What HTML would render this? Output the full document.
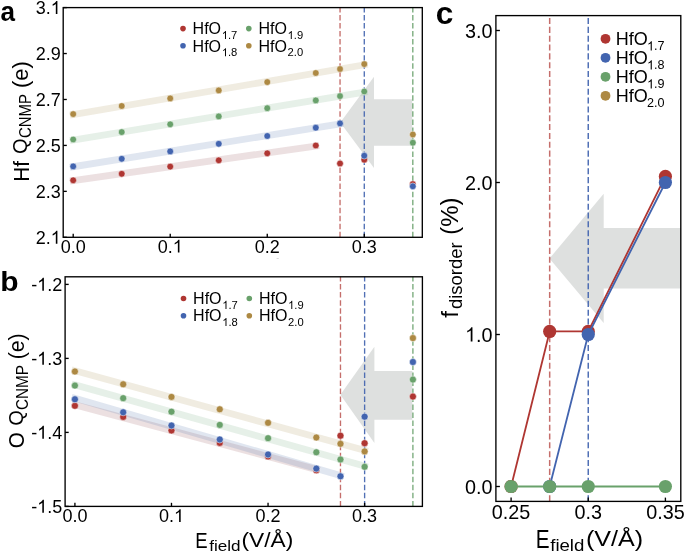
<!DOCTYPE html>
<html><head><meta charset="utf-8"><style>
html,body{margin:0;padding:0;background:#fff;}
svg{display:block;will-change:transform;}
text{font-family:"Liberation Sans", sans-serif;fill:#000;}
</style></head><body>
<svg width="685" height="553" viewBox="0 0 685 553">
<rect width="685" height="553" fill="#fff"/>
<polygon points="340.3,122.4 374.0,76.7 374.0,99.2 412.2,99.2 412.2,145.7 374.0,145.7 374.0,167.9" fill="#dee0df"/>
<line x1="73.20" y1="180.57" x2="315.78" y2="146.03" stroke="rgb(160,100,105)" stroke-opacity="0.2" stroke-width="6.8" stroke-linecap="square"/>
<line x1="73.20" y1="166.73" x2="340.04" y2="123.91" stroke="rgb(100,130,180)" stroke-opacity="0.2" stroke-width="6.8" stroke-linecap="square"/>
<line x1="73.20" y1="140.00" x2="364.29" y2="92.11" stroke="rgb(130,180,140)" stroke-opacity="0.2" stroke-width="6.8" stroke-linecap="square"/>
<line x1="73.20" y1="114.62" x2="364.29" y2="64.84" stroke="rgb(180,160,105)" stroke-opacity="0.2" stroke-width="6.8" stroke-linecap="square"/>
<line x1="340.04" y1="237.30" x2="340.04" y2="7.60" stroke="#af3632" stroke-opacity="0.72" stroke-width="1.35" stroke-dasharray="5.5 2.53" stroke-dashoffset="0"/>
<line x1="364.29" y1="237.30" x2="364.29" y2="7.60" stroke="#4264af" stroke-opacity="0.92" stroke-width="1.35" stroke-dasharray="5.5 2.53" stroke-dashoffset="0"/>
<line x1="412.81" y1="237.30" x2="412.81" y2="7.60" stroke="#69a16b" stroke-opacity="0.9" stroke-width="1.35" stroke-dasharray="5.5 2.53" stroke-dashoffset="0"/>
<circle cx="73.20" cy="180.30" r="3.35" fill="#af3632" stroke="#fff" stroke-width="0.5"/>
<circle cx="121.72" cy="173.80" r="3.35" fill="#af3632" stroke="#fff" stroke-width="0.5"/>
<circle cx="170.23" cy="166.60" r="3.35" fill="#af3632" stroke="#fff" stroke-width="0.5"/>
<circle cx="218.75" cy="160.30" r="3.35" fill="#af3632" stroke="#fff" stroke-width="0.5"/>
<circle cx="267.26" cy="153.30" r="3.35" fill="#af3632" stroke="#fff" stroke-width="0.5"/>
<circle cx="315.78" cy="145.50" r="3.35" fill="#af3632" stroke="#fff" stroke-width="0.5"/>
<circle cx="340.04" cy="163.50" r="3.35" fill="#af3632" stroke="#fff" stroke-width="0.5"/>
<circle cx="364.29" cy="159.70" r="3.35" fill="#af3632" stroke="#fff" stroke-width="0.5"/>
<circle cx="412.81" cy="184.10" r="3.35" fill="#af3632" stroke="#fff" stroke-width="0.5"/>
<circle cx="73.20" cy="166.40" r="3.35" fill="#4264af" stroke="#fff" stroke-width="0.5"/>
<circle cx="121.72" cy="158.80" r="3.35" fill="#4264af" stroke="#fff" stroke-width="0.5"/>
<circle cx="170.23" cy="151.40" r="3.35" fill="#4264af" stroke="#fff" stroke-width="0.5"/>
<circle cx="218.75" cy="143.80" r="3.35" fill="#4264af" stroke="#fff" stroke-width="0.5"/>
<circle cx="267.26" cy="136.00" r="3.35" fill="#4264af" stroke="#fff" stroke-width="0.5"/>
<circle cx="315.78" cy="127.70" r="3.35" fill="#4264af" stroke="#fff" stroke-width="0.5"/>
<circle cx="340.04" cy="123.40" r="3.35" fill="#4264af" stroke="#fff" stroke-width="0.5"/>
<circle cx="364.29" cy="155.70" r="3.35" fill="#4264af" stroke="#fff" stroke-width="0.5"/>
<circle cx="412.81" cy="186.30" r="3.35" fill="#4264af" stroke="#fff" stroke-width="0.5"/>
<circle cx="73.20" cy="139.50" r="3.35" fill="#69a16b" stroke="#fff" stroke-width="0.5"/>
<circle cx="121.72" cy="132.10" r="3.35" fill="#69a16b" stroke="#fff" stroke-width="0.5"/>
<circle cx="170.23" cy="124.30" r="3.35" fill="#69a16b" stroke="#fff" stroke-width="0.5"/>
<circle cx="218.75" cy="116.40" r="3.35" fill="#69a16b" stroke="#fff" stroke-width="0.5"/>
<circle cx="267.26" cy="108.20" r="3.35" fill="#69a16b" stroke="#fff" stroke-width="0.5"/>
<circle cx="315.78" cy="100.40" r="3.35" fill="#69a16b" stroke="#fff" stroke-width="0.5"/>
<circle cx="340.04" cy="96.10" r="3.35" fill="#69a16b" stroke="#fff" stroke-width="0.5"/>
<circle cx="364.29" cy="91.50" r="3.35" fill="#69a16b" stroke="#fff" stroke-width="0.5"/>
<circle cx="412.81" cy="142.70" r="3.35" fill="#69a16b" stroke="#fff" stroke-width="0.5"/>
<circle cx="73.20" cy="114.10" r="3.35" fill="#ad8943" stroke="#fff" stroke-width="0.5"/>
<circle cx="121.72" cy="106.00" r="3.35" fill="#ad8943" stroke="#fff" stroke-width="0.5"/>
<circle cx="170.23" cy="98.40" r="3.35" fill="#ad8943" stroke="#fff" stroke-width="0.5"/>
<circle cx="218.75" cy="90.40" r="3.35" fill="#ad8943" stroke="#fff" stroke-width="0.5"/>
<circle cx="267.26" cy="82.10" r="3.35" fill="#ad8943" stroke="#fff" stroke-width="0.5"/>
<circle cx="315.78" cy="73.00" r="3.35" fill="#ad8943" stroke="#fff" stroke-width="0.5"/>
<circle cx="340.04" cy="69.00" r="3.35" fill="#ad8943" stroke="#fff" stroke-width="0.5"/>
<circle cx="364.29" cy="64.10" r="3.35" fill="#ad8943" stroke="#fff" stroke-width="0.5"/>
<circle cx="412.81" cy="134.50" r="3.35" fill="#ad8943" stroke="#fff" stroke-width="0.5"/>
<rect x="63.20" y="7.60" width="359.10" height="229.70" fill="none" stroke="#000" stroke-width="1.35"/>
<line x1="63.20" y1="237.30" x2="66.80" y2="237.30" stroke="#000" stroke-width="1.35"/>
<line x1="63.20" y1="191.36" x2="66.80" y2="191.36" stroke="#000" stroke-width="1.35"/>
<line x1="63.20" y1="145.42" x2="66.80" y2="145.42" stroke="#000" stroke-width="1.35"/>
<line x1="63.20" y1="99.48" x2="66.80" y2="99.48" stroke="#000" stroke-width="1.35"/>
<line x1="63.20" y1="53.54" x2="66.80" y2="53.54" stroke="#000" stroke-width="1.35"/>
<line x1="63.20" y1="7.60" x2="66.80" y2="7.60" stroke="#000" stroke-width="1.35"/>
<line x1="73.20" y1="237.30" x2="73.20" y2="233.70" stroke="#000" stroke-width="1.35"/>
<line x1="170.23" y1="237.30" x2="170.23" y2="233.70" stroke="#000" stroke-width="1.35"/>
<line x1="267.26" y1="237.30" x2="267.26" y2="233.70" stroke="#000" stroke-width="1.35"/>
<line x1="364.29" y1="237.30" x2="364.29" y2="233.70" stroke="#000" stroke-width="1.35"/>
<text x="35.68" y="243.70" font-size="18">2.</text>
<path transform="translate(50.69,243.70) scale(0.008789,-0.008789)" d="M763 0L583 0L583 1147Q518 1085 412 1023Q306 961 222 930L222 1104Q373 1175 486 1276Q599 1377 646 1472L763 1472Z"/>
<text x="60.70" y="197.76" font-size="18" text-anchor="end" font-weight="normal">2.3</text>
<text x="60.70" y="151.82" font-size="18" text-anchor="end" font-weight="normal">2.5</text>
<text x="60.70" y="105.88" font-size="18" text-anchor="end" font-weight="normal">2.7</text>
<text x="60.70" y="59.94" font-size="18" text-anchor="end" font-weight="normal">2.9</text>
<text x="35.68" y="14.00" font-size="18">3.</text>
<path transform="translate(50.69,14.00) scale(0.008789,-0.008789)" d="M763 0L583 0L583 1147Q518 1085 412 1023Q306 961 222 930L222 1104Q373 1175 486 1276Q599 1377 646 1472L763 1472Z"/>
<text x="73.20" y="252.60" font-size="18" text-anchor="middle" font-weight="normal">0.0</text>
<text x="157.72" y="252.60" font-size="18">0.</text>
<path transform="translate(172.74,252.60) scale(0.008789,-0.008789)" d="M763 0L583 0L583 1147Q518 1085 412 1023Q306 961 222 930L222 1104Q373 1175 486 1276Q599 1377 646 1472L763 1472Z"/>
<text x="267.26" y="252.60" font-size="18" text-anchor="middle" font-weight="normal">0.2</text>
<text x="364.29" y="252.60" font-size="18" text-anchor="middle" font-weight="normal">0.3</text>
<circle cx="183.00" cy="28.60" r="2.8" fill="#af3632"/>
<text x="192.60" y="34.30" font-size="16">HfO</text>
<path transform="translate(221.80,39.00) scale(0.005469,-0.005469)" d="M763 0L583 0L583 1147Q518 1085 412 1023Q306 961 222 930L222 1104Q373 1175 486 1276Q599 1377 646 1472L763 1472Z"/>
<text x="228.03" y="39.00" font-size="11.2">.7</text>
<circle cx="183.00" cy="45.80" r="2.8" fill="#4264af"/>
<text x="192.60" y="51.50" font-size="16">HfO</text>
<path transform="translate(221.80,56.20) scale(0.005469,-0.005469)" d="M763 0L583 0L583 1147Q518 1085 412 1023Q306 961 222 930L222 1104Q373 1175 486 1276Q599 1377 646 1472L763 1472Z"/>
<text x="228.03" y="56.20" font-size="11.2">.8</text>
<circle cx="248.80" cy="28.60" r="2.8" fill="#69a16b"/>
<text x="258.40" y="34.30" font-size="16">HfO</text>
<path transform="translate(287.60,39.00) scale(0.005469,-0.005469)" d="M763 0L583 0L583 1147Q518 1085 412 1023Q306 961 222 930L222 1104Q373 1175 486 1276Q599 1377 646 1472L763 1472Z"/>
<text x="293.83" y="39.00" font-size="11.2">.9</text>
<circle cx="248.80" cy="45.80" r="2.8" fill="#ad8943"/>
<text x="258.40" y="51.50" font-size="16">HfO</text>
<text x="287.60" y="56.20" font-size="11.2" text-anchor="start" font-weight="normal">2.0</text>
<polygon points="340.4,394.8 374.4,346.7 374.4,370.9 412.3,370.9 412.3,419.8 374.4,419.8 374.4,442.9" fill="#dee0df"/>
<line x1="74.91" y1="404.75" x2="316.33" y2="469.52" stroke="rgb(160,100,105)" stroke-opacity="0.2" stroke-width="6.8" stroke-linecap="square"/>
<line x1="74.91" y1="398.29" x2="340.47" y2="475.55" stroke="rgb(100,130,180)" stroke-opacity="0.2" stroke-width="6.8" stroke-linecap="square"/>
<line x1="74.91" y1="384.82" x2="364.62" y2="466.02" stroke="rgb(130,180,140)" stroke-opacity="0.2" stroke-width="6.8" stroke-linecap="square"/>
<line x1="74.91" y1="370.67" x2="364.62" y2="450.40" stroke="rgb(180,160,105)" stroke-opacity="0.2" stroke-width="6.8" stroke-linecap="square"/>
<line x1="340.47" y1="506.40" x2="340.47" y2="276.80" stroke="#af3632" stroke-opacity="0.72" stroke-width="1.35" stroke-dasharray="5.5 2.53" stroke-dashoffset="0"/>
<line x1="364.62" y1="506.40" x2="364.62" y2="276.80" stroke="#4264af" stroke-opacity="0.92" stroke-width="1.35" stroke-dasharray="5.5 2.53" stroke-dashoffset="0"/>
<line x1="412.90" y1="506.40" x2="412.90" y2="276.80" stroke="#69a16b" stroke-opacity="0.9" stroke-width="1.35" stroke-dasharray="5.5 2.53" stroke-dashoffset="0"/>
<circle cx="74.91" cy="405.80" r="3.5" fill="#af3632" stroke="#fff" stroke-width="0.5"/>
<circle cx="123.19" cy="416.90" r="3.5" fill="#af3632" stroke="#fff" stroke-width="0.5"/>
<circle cx="171.48" cy="430.50" r="3.5" fill="#af3632" stroke="#fff" stroke-width="0.5"/>
<circle cx="219.76" cy="442.90" r="3.5" fill="#af3632" stroke="#fff" stroke-width="0.5"/>
<circle cx="268.05" cy="456.40" r="3.5" fill="#af3632" stroke="#fff" stroke-width="0.5"/>
<circle cx="316.33" cy="470.30" r="3.5" fill="#af3632" stroke="#fff" stroke-width="0.5"/>
<circle cx="340.47" cy="435.70" r="3.5" fill="#af3632" stroke="#fff" stroke-width="0.5"/>
<circle cx="364.62" cy="443.20" r="3.5" fill="#af3632" stroke="#fff" stroke-width="0.5"/>
<circle cx="412.90" cy="396.60" r="3.5" fill="#af3632" stroke="#fff" stroke-width="0.5"/>
<circle cx="74.91" cy="399.30" r="3.5" fill="#4264af" stroke="#fff" stroke-width="0.5"/>
<circle cx="123.19" cy="412.30" r="3.5" fill="#4264af" stroke="#fff" stroke-width="0.5"/>
<circle cx="171.48" cy="425.50" r="3.5" fill="#4264af" stroke="#fff" stroke-width="0.5"/>
<circle cx="219.76" cy="439.50" r="3.5" fill="#4264af" stroke="#fff" stroke-width="0.5"/>
<circle cx="268.05" cy="454.50" r="3.5" fill="#4264af" stroke="#fff" stroke-width="0.5"/>
<circle cx="316.33" cy="468.60" r="3.5" fill="#4264af" stroke="#fff" stroke-width="0.5"/>
<circle cx="340.47" cy="476.30" r="3.5" fill="#4264af" stroke="#fff" stroke-width="0.5"/>
<circle cx="364.62" cy="416.70" r="3.5" fill="#4264af" stroke="#fff" stroke-width="0.5"/>
<circle cx="412.90" cy="362.00" r="3.5" fill="#4264af" stroke="#fff" stroke-width="0.5"/>
<circle cx="74.91" cy="385.60" r="3.5" fill="#69a16b" stroke="#fff" stroke-width="0.5"/>
<circle cx="123.19" cy="398.20" r="3.5" fill="#69a16b" stroke="#fff" stroke-width="0.5"/>
<circle cx="171.48" cy="411.70" r="3.5" fill="#69a16b" stroke="#fff" stroke-width="0.5"/>
<circle cx="219.76" cy="424.90" r="3.5" fill="#69a16b" stroke="#fff" stroke-width="0.5"/>
<circle cx="268.05" cy="438.20" r="3.5" fill="#69a16b" stroke="#fff" stroke-width="0.5"/>
<circle cx="316.33" cy="452.30" r="3.5" fill="#69a16b" stroke="#fff" stroke-width="0.5"/>
<circle cx="340.47" cy="459.50" r="3.5" fill="#69a16b" stroke="#fff" stroke-width="0.5"/>
<circle cx="364.62" cy="466.80" r="3.5" fill="#69a16b" stroke="#fff" stroke-width="0.5"/>
<circle cx="412.90" cy="379.60" r="3.5" fill="#69a16b" stroke="#fff" stroke-width="0.5"/>
<circle cx="74.91" cy="371.50" r="3.5" fill="#ad8943" stroke="#fff" stroke-width="0.5"/>
<circle cx="123.19" cy="384.30" r="3.5" fill="#ad8943" stroke="#fff" stroke-width="0.5"/>
<circle cx="171.48" cy="396.90" r="3.5" fill="#ad8943" stroke="#fff" stroke-width="0.5"/>
<circle cx="219.76" cy="409.30" r="3.5" fill="#ad8943" stroke="#fff" stroke-width="0.5"/>
<circle cx="268.05" cy="422.80" r="3.5" fill="#ad8943" stroke="#fff" stroke-width="0.5"/>
<circle cx="316.33" cy="437.50" r="3.5" fill="#ad8943" stroke="#fff" stroke-width="0.5"/>
<circle cx="340.47" cy="443.80" r="3.5" fill="#ad8943" stroke="#fff" stroke-width="0.5"/>
<circle cx="364.62" cy="451.40" r="3.5" fill="#ad8943" stroke="#fff" stroke-width="0.5"/>
<circle cx="412.90" cy="338.10" r="3.5" fill="#ad8943" stroke="#fff" stroke-width="0.5"/>
<rect x="65.10" y="276.80" width="357.30" height="229.60" fill="none" stroke="#000" stroke-width="1.35"/>
<line x1="65.10" y1="506.40" x2="68.70" y2="506.40" stroke="#000" stroke-width="1.35"/>
<line x1="65.10" y1="432.40" x2="68.70" y2="432.40" stroke="#000" stroke-width="1.35"/>
<line x1="65.10" y1="358.40" x2="68.70" y2="358.40" stroke="#000" stroke-width="1.35"/>
<line x1="65.10" y1="284.40" x2="68.70" y2="284.40" stroke="#000" stroke-width="1.35"/>
<line x1="74.91" y1="506.40" x2="74.91" y2="502.80" stroke="#000" stroke-width="1.35"/>
<line x1="171.48" y1="506.40" x2="171.48" y2="502.80" stroke="#000" stroke-width="1.35"/>
<line x1="268.05" y1="506.40" x2="268.05" y2="502.80" stroke="#000" stroke-width="1.35"/>
<line x1="364.62" y1="506.40" x2="364.62" y2="502.80" stroke="#000" stroke-width="1.35"/>
<text x="31.19" y="512.80" font-size="18">-</text>
<path transform="translate(37.18,512.80) scale(0.008789,-0.008789)" d="M763 0L583 0L583 1147Q518 1085 412 1023Q306 961 222 930L222 1104Q373 1175 486 1276Q599 1377 646 1472L763 1472Z"/>
<text x="47.19" y="512.80" font-size="18">.5</text>
<text x="31.19" y="438.80" font-size="18">-</text>
<path transform="translate(37.18,438.80) scale(0.008789,-0.008789)" d="M763 0L583 0L583 1147Q518 1085 412 1023Q306 961 222 930L222 1104Q373 1175 486 1276Q599 1377 646 1472L763 1472Z"/>
<text x="47.19" y="438.80" font-size="18">.4</text>
<text x="31.19" y="364.80" font-size="18">-</text>
<path transform="translate(37.18,364.80) scale(0.008789,-0.008789)" d="M763 0L583 0L583 1147Q518 1085 412 1023Q306 961 222 930L222 1104Q373 1175 486 1276Q599 1377 646 1472L763 1472Z"/>
<text x="47.19" y="364.80" font-size="18">.3</text>
<text x="31.19" y="290.80" font-size="18">-</text>
<path transform="translate(37.18,290.80) scale(0.008789,-0.008789)" d="M763 0L583 0L583 1147Q518 1085 412 1023Q306 961 222 930L222 1104Q373 1175 486 1276Q599 1377 646 1472L763 1472Z"/>
<text x="47.19" y="290.80" font-size="18">.2</text>
<text x="74.91" y="522.10" font-size="18" text-anchor="middle" font-weight="normal">0.0</text>
<text x="158.97" y="522.10" font-size="18">0.</text>
<path transform="translate(173.98,522.10) scale(0.008789,-0.008789)" d="M763 0L583 0L583 1147Q518 1085 412 1023Q306 961 222 930L222 1104Q373 1175 486 1276Q599 1377 646 1472L763 1472Z"/>
<text x="268.05" y="522.10" font-size="18" text-anchor="middle" font-weight="normal">0.2</text>
<text x="364.62" y="522.10" font-size="18" text-anchor="middle" font-weight="normal">0.3</text>
<circle cx="183.50" cy="298.50" r="2.8" fill="#af3632"/>
<text x="193.10" y="304.20" font-size="16">HfO</text>
<path transform="translate(222.30,308.90) scale(0.005469,-0.005469)" d="M763 0L583 0L583 1147Q518 1085 412 1023Q306 961 222 930L222 1104Q373 1175 486 1276Q599 1377 646 1472L763 1472Z"/>
<text x="228.53" y="308.90" font-size="11.2">.7</text>
<circle cx="183.50" cy="315.70" r="2.8" fill="#4264af"/>
<text x="193.10" y="321.40" font-size="16">HfO</text>
<path transform="translate(222.30,326.10) scale(0.005469,-0.005469)" d="M763 0L583 0L583 1147Q518 1085 412 1023Q306 961 222 930L222 1104Q373 1175 486 1276Q599 1377 646 1472L763 1472Z"/>
<text x="228.53" y="326.10" font-size="11.2">.8</text>
<circle cx="249.30" cy="298.50" r="2.8" fill="#69a16b"/>
<text x="258.90" y="304.20" font-size="16">HfO</text>
<path transform="translate(288.10,308.90) scale(0.005469,-0.005469)" d="M763 0L583 0L583 1147Q518 1085 412 1023Q306 961 222 930L222 1104Q373 1175 486 1276Q599 1377 646 1472L763 1472Z"/>
<text x="294.33" y="308.90" font-size="11.2">.9</text>
<circle cx="249.30" cy="315.70" r="2.8" fill="#ad8943"/>
<text x="258.90" y="321.40" font-size="16">HfO</text>
<text x="288.10" y="326.10" font-size="11.2" text-anchor="start" font-weight="normal">2.0</text>
<text transform="translate(0.58,21.02) scale(0.9207,1)" font-size="28.36" font-weight="bold">a</text>
<text transform="translate(0.20,290.50) scale(1.0683,1)" font-size="28.08" font-weight="bold">b</text>
<text transform="translate(435.73,23.79) scale(1.0115,1)" font-size="31.27" font-weight="bold">c</text>
<text transform="translate(28.68,181.76) rotate(-90) scale(0.9793,1)" font-size="21.20" font-weight="normal">Hf</text>
<text transform="translate(26.85,153.90) rotate(-90) scale(0.9622,1)" font-size="20.79" font-weight="normal">Q</text>
<text transform="translate(31.34,138.05) rotate(-90) scale(0.9425,1)" font-size="15.92" font-weight="normal">CNMP</text>
<text transform="translate(28.45,88.01) rotate(-90) scale(0.9860,1)" font-size="22.13" font-weight="normal">(e)</text>
<text transform="translate(24.17,448.23) rotate(-90) scale(0.9136,1)" font-size="22.54" font-weight="normal">O</text>
<text transform="translate(22.57,425.80) rotate(-90) scale(0.9674,1)" font-size="20.67" font-weight="normal">Q</text>
<text transform="translate(28.03,409.96) rotate(-90) scale(0.9118,1)" font-size="16.76" font-weight="normal">CNMP</text>
<text transform="translate(23.85,359.28) rotate(-90) scale(0.9614,1)" font-size="22.13" font-weight="normal">(e)</text>
<text transform="translate(195.32,548.20) scale(0.8087,1)" font-size="22.90" font-weight="normal">E</text>
<text transform="translate(209.23,551.15) scale(1.1300,1)" font-size="15.14" font-weight="normal">field</text>
<text transform="translate(241.44,546.51) scale(1.0863,1)" font-size="20.93" font-weight="normal">(V/Å)</text>
<polygon points="549.5,258.5 603.7,193.7 603.7,227.9 680.8,227.9 680.8,288.6 603.7,288.6 603.7,323.0" fill="#dee0df"/>
<line x1="549.68" y1="501.40" x2="549.68" y2="15.60" stroke="#af3632" stroke-opacity="0.72" stroke-width="1.5" stroke-dasharray="6.05 2.79" stroke-dashoffset="0"/>
<line x1="588.25" y1="501.40" x2="588.25" y2="15.60" stroke="#4264af" stroke-opacity="0.92" stroke-width="1.5" stroke-dasharray="6.05 2.79" stroke-dashoffset="0"/>
<polyline points="511.10,486.50 549.68,331.46 588.25,331.46 665.40,176.42" fill="none" stroke="#af3632" stroke-width="1.8" stroke-linejoin="round"/>
<circle cx="511.10" cy="486.50" r="6.6" fill="#af3632"/>
<circle cx="549.68" cy="331.46" r="6.6" fill="#af3632"/>
<circle cx="588.25" cy="331.46" r="6.6" fill="#af3632"/>
<circle cx="665.40" cy="176.42" r="6.6" fill="#af3632"/>
<polyline points="549.68,486.50 588.25,334.50 665.40,182.50" fill="none" stroke="#4264af" stroke-width="1.8" stroke-linejoin="round"/>
<circle cx="549.68" cy="486.50" r="6.6" fill="#4264af"/>
<circle cx="588.25" cy="334.50" r="6.6" fill="#4264af"/>
<circle cx="665.40" cy="182.50" r="6.6" fill="#4264af"/>
<polyline points="511.10,486.50 549.68,486.50 588.25,486.50 665.40,486.50" fill="none" stroke="#69a16b" stroke-width="1.8" stroke-linejoin="round"/>
<circle cx="511.10" cy="486.50" r="6.6" fill="#69a16b"/>
<circle cx="549.68" cy="486.50" r="6.6" fill="#69a16b"/>
<circle cx="588.25" cy="486.50" r="6.6" fill="#69a16b"/>
<circle cx="665.40" cy="486.50" r="6.6" fill="#69a16b"/>
<rect x="495.90" y="15.60" width="184.90" height="485.80" fill="none" stroke="#000" stroke-width="1.35"/>
<line x1="495.90" y1="486.50" x2="499.90" y2="486.50" stroke="#000" stroke-width="1.35"/>
<text x="492.60" y="493.50" font-size="19.8" text-anchor="end" font-weight="normal">0.0</text>
<line x1="495.90" y1="334.50" x2="499.90" y2="334.50" stroke="#000" stroke-width="1.35"/>
<path transform="translate(465.08,341.50) scale(0.009668,-0.009668)" d="M763 0L583 0L583 1147Q518 1085 412 1023Q306 961 222 930L222 1104Q373 1175 486 1276Q599 1377 646 1472L763 1472Z"/>
<text x="476.09" y="341.50" font-size="19.8">.0</text>
<line x1="495.90" y1="182.50" x2="499.90" y2="182.50" stroke="#000" stroke-width="1.35"/>
<text x="492.60" y="189.50" font-size="19.8" text-anchor="end" font-weight="normal">2.0</text>
<line x1="495.90" y1="30.50" x2="499.90" y2="30.50" stroke="#000" stroke-width="1.35"/>
<text x="492.60" y="37.50" font-size="19.8" text-anchor="end" font-weight="normal">3.0</text>
<line x1="511.10" y1="501.40" x2="511.10" y2="497.60" stroke="#000" stroke-width="1.35"/>
<text x="511.10" y="518.70" font-size="19.8" text-anchor="middle" font-weight="normal">0.25</text>
<line x1="588.25" y1="501.40" x2="588.25" y2="497.60" stroke="#000" stroke-width="1.35"/>
<text x="588.25" y="518.70" font-size="19.8" text-anchor="middle" font-weight="normal">0.3</text>
<line x1="665.40" y1="501.40" x2="665.40" y2="497.60" stroke="#000" stroke-width="1.35"/>
<text x="665.40" y="518.70" font-size="19.8" text-anchor="middle" font-weight="normal">0.35</text>
<circle cx="605.5" cy="38.80" r="4.9" fill="#af3632"/>
<text x="615.80" y="45.20" font-size="18">HfO</text>
<path transform="translate(647.10,50.40) scale(0.006152,-0.006152)" d="M763 0L583 0L583 1147Q518 1085 412 1023Q306 961 222 930L222 1104Q373 1175 486 1276Q599 1377 646 1472L763 1472Z"/>
<text x="654.11" y="50.40" font-size="12.6">.7</text>
<circle cx="605.5" cy="57.80" r="4.9" fill="#4264af"/>
<text x="615.80" y="64.20" font-size="18">HfO</text>
<path transform="translate(647.10,69.40) scale(0.006152,-0.006152)" d="M763 0L583 0L583 1147Q518 1085 412 1023Q306 961 222 930L222 1104Q373 1175 486 1276Q599 1377 646 1472L763 1472Z"/>
<text x="654.11" y="69.40" font-size="12.6">.8</text>
<circle cx="605.5" cy="76.80" r="4.9" fill="#69a16b"/>
<text x="615.80" y="83.20" font-size="18">HfO</text>
<path transform="translate(647.10,88.40) scale(0.006152,-0.006152)" d="M763 0L583 0L583 1147Q518 1085 412 1023Q306 961 222 930L222 1104Q373 1175 486 1276Q599 1377 646 1472L763 1472Z"/>
<text x="654.11" y="88.40" font-size="12.6">.9</text>
<circle cx="605.5" cy="95.80" r="4.9" fill="#ad8943"/>
<text x="615.80" y="102.20" font-size="18">HfO</text>
<text x="647.10" y="107.40" font-size="12.6" text-anchor="start" font-weight="normal">2.0</text>
<text transform="translate(458.24,317.74) rotate(-90) scale(1.0000,1)" font-size="24.44" font-weight="normal">f</text>
<text transform="translate(461.82,309.04) rotate(-90) scale(1.0362,1)" font-size="17.84" font-weight="normal">disorder</text>
<text transform="translate(457.73,234.73) rotate(-90) scale(0.9904,1)" font-size="24.15" font-weight="normal">(%)</text>
<text transform="translate(535.64,547.60) scale(0.8272,1)" font-size="25.07" font-weight="normal">E</text>
<text transform="translate(550.21,550.73) scale(1.1212,1)" font-size="16.62" font-weight="normal">field</text>
<text transform="translate(585.99,545.90) scale(1.0992,1)" font-size="22.87" font-weight="normal">(V/Å)</text>
<ellipse cx="277.7" cy="258.5" rx="1.3" ry="0.6" fill="#d8d8d8"/>
</svg></body></html>
